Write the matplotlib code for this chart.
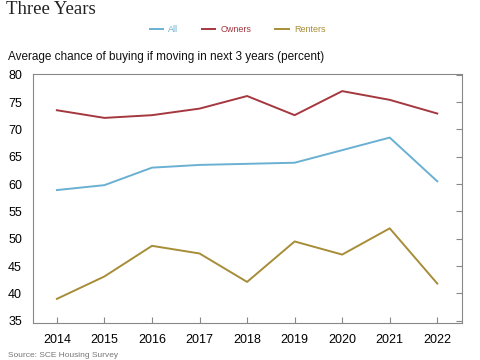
import matplotlib
matplotlib.use("Agg")
import matplotlib.pyplot as plt

years = [2014, 2015, 2016, 2017, 2018, 2019, 2020, 2021, 2022]
all_vals = [58.9, 59.8, 63.0, 63.5, 63.7, 63.9, 66.2, 68.5, 60.5]
owners = [73.5, 72.1, 72.6, 73.8, 76.1, 72.6, 77.0, 75.4, 72.9]
renters = [39.0, 43.1, 48.7, 47.3, 42.1, 49.5, 47.1, 51.9, 41.8]
yticks = [35, 40, 45, 50, 55, 60, 65, 70, 75, 80]

plt.rcParams['font.family'] = ['Liberation Sans', 'DejaVu Sans']

fig = plt.figure(figsize=(4.8, 3.6), dpi=100)
ax = fig.add_axes([0.069, 0.103, 0.8935, 0.691])

c_all = '#6ab0d3'
c_own = '#a5373f'
c_ren = '#a78d37'
ax.plot(years, all_vals, color=c_all, lw=1.4, label='All')
ax.plot(years, owners, color=c_own, lw=1.4, label='Owners')
ax.plot(years, renters, color=c_ren, lw=1.4, label='Renters')

ax.set_xlim(2013.5, 2022.52)
ax.set_ylim(34.6, 80.1)
ax.set_yticks(yticks)
ax.set_xticks(years)
ax.tick_params(axis='y', left=False, right=True, labelleft=True, direction='in',
               length=4, color='#888888', labelsize=9, pad=8)
ax.tick_params(axis='x', direction='in', length=4, color='#888888', labelsize=9, pad=8)
for s in ax.spines.values():
    s.set_color('#888888')
    s.set_linewidth(0.8)

fig.text(0.013, 0.975, 'Three Years', family='Liberation Serif', fontsize=13.5,
         color='#222222', va='center', ha='left')
fig.text(0.017, 0.842, 'Average chance of buying if moving in next 3 years (percent)',
         fontsize=8.5, color='#111111', va='center', ha='left')
fig.legend(loc='center', bbox_to_anchor=(0.495, 0.918), ncol=3, frameon=False,
           fontsize=6.5, labelcolor='linecolor', handlelength=1.5, handletextpad=0.6,
           columnspacing=2.6)
fig.text(0.017, 0.003, 'Source: SCE Housing Survey', fontsize=6, color='#777777',
         va='bottom', ha='left')

fig.savefig('out.png', dpi=100)
